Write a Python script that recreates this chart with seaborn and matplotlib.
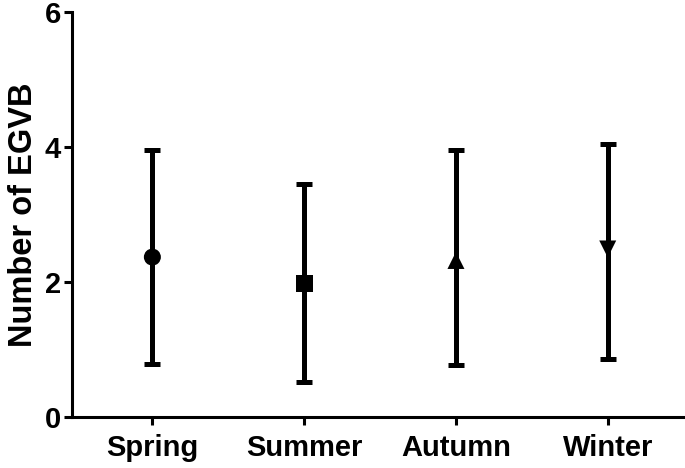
import numpy as np
import pandas as pd
import matplotlib
matplotlib.use("Agg")
import matplotlib.pyplot as plt
import seaborn as sns

seasons = ["Spring", "Summer", "Autumn", "Winter"]
mean_vals = [2.37, 1.98, 2.32, 2.49]
lower_vals = [0.79, 0.52, 0.77, 0.86]
upper_vals = [3.95, 3.45, 3.95, 4.04]
season_markers = ["o", "s", "^", "v"]

sns.set_style("ticks")
plt.rcParams['font.family'] = ['Liberation Sans', 'DejaVu Sans']
plt.rcParams['font.weight'] = 'bold'
plt.rcParams['text.color'] = 'black'
plt.rcParams['axes.labelcolor'] = 'black'
plt.rcParams['xtick.color'] = 'black'
plt.rcParams['ytick.color'] = 'black'
plt.rcParams['axes.edgecolor'] = 'black'

df = pd.DataFrame({"season": seasons, "mean": mean_vals,
                   "low": lower_vals, "high": upper_vals})

fig = plt.figure(figsize=(6.85, 4.68), dpi=100)
ax = fig.add_axes([0.105, 0.109, 0.893, 0.865])

# error bars first, markers on top
yerr = np.array([df["mean"] - df["low"], df["high"] - df["mean"]])
ax.errorbar(df["season"], df["mean"], yerr=yerr, fmt="none", ecolor="black",
            elinewidth=3.6, capsize=6, capthick=3.6, zorder=2)

sns.scatterplot(data=df, x="season", y="mean", style="season",
                markers=dict(zip(seasons, season_markers)), color="black",
                s=150, edgecolor="black", linewidth=0, legend=False, ax=ax, zorder=3)

ax.set_xlim(-0.53, 3.5)
ax.set_ylim(0, 6)
ax.set_yticks([0, 2, 4, 6])
ax.set_xlabel("")
ax.set_ylabel("Number of EGVB", fontsize=23.5, fontweight="bold", labelpad=4)
ax.tick_params(axis="both", labelsize=21, width=2.2, length=6, color="black",
               labelcolor="black")
ax.tick_params(axis="y", pad=2)
ax.tick_params(axis="x", pad=6)
for lbl in ax.get_xticklabels() + ax.get_yticklabels():
    lbl.set_fontweight("bold")

sns.despine(ax=ax)
ax.spines["left"].set_linewidth(2.2)
ax.spines["bottom"].set_linewidth(2.2)

fig.savefig("out.png", dpi=100)
